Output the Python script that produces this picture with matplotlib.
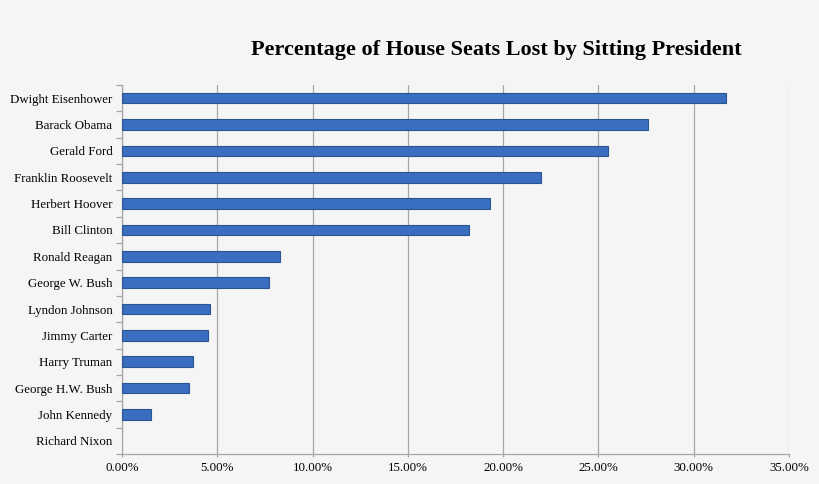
import matplotlib
matplotlib.use('Agg')
import matplotlib.pyplot as plt
from matplotlib.ticker import PercentFormatter, FixedLocator
import numpy as np

plt.rcParams['font.family'] = ['Liberation Serif', 'DejaVu Serif']

# Data (top to bottom)
presidents = ["Dwight Eisenhower", "Barack Obama", "Gerald Ford", "Franklin Roosevelt",
              "Herbert Hoover", "Bill Clinton", "Ronald Reagan", "George W. Bush",
              "Lyndon Johnson", "Jimmy Carter", "Harry Truman", "George H.W. Bush",
              "John Kennedy", "Richard Nixon"]
seats_lost_pct = [31.7, 27.6, 25.5, 22.0, 19.3, 18.2, 8.3, 7.7, 4.6, 4.5, 3.7, 3.5, 1.5, 0.0]

bg = '#f5f5f5'
fig = plt.figure(figsize=(8.2, 4.84), dpi=100, facecolor=bg)
ax = fig.add_axes([122/820, 1-454/484, (789-122)/820, (454-85)/484])
ax.set_facecolor(bg)

y = np.arange(len(presidents))[::-1]
edges = ['#2a5593' if v > 0 else 'none' for v in seats_lost_pct]
ax.barh(y, seats_lost_pct, height=0.4, color='#3a6ec0', edgecolor=edges,
        linewidth=0.8, zorder=3)

ax.set_xlim(0, 35)
ax.set_ylim(-0.5, len(presidents) - 0.5)
ax.set_xticks(np.arange(0, 36, 5))
ax.xaxis.set_major_formatter(PercentFormatter(decimals=2))
ax.grid(axis='x', color='#a6a6a6', lw=0.9, zorder=0)

ax.set_yticks(y)
ax.set_yticklabels(presidents)
ax.yaxis.set_minor_locator(FixedLocator(np.arange(-0.5, len(presidents), 1)))
ax.tick_params(axis='y', which='major', length=0, pad=7, labelsize=9.3)
ax.tick_params(axis='y', which='minor', length=4, color='#a6a6a6', width=0.9)
ax.tick_params(axis='x', length=2, color='#a6a6a6', width=0.9, labelsize=9.3, pad=4)

for s in ['top', 'right']:
    ax.spines[s].set_visible(False)
for s in ['left', 'bottom']:
    ax.spines[s].set_color('#a6a6a6')
    ax.spines[s].set_linewidth(0.9)

fig.text(496/820, 1-50/484, "Percentage of House Seats Lost by Sitting President",
         ha='center', va='center', fontsize=16, fontweight='bold')

fig.savefig('out.png', dpi=100, facecolor=bg)
